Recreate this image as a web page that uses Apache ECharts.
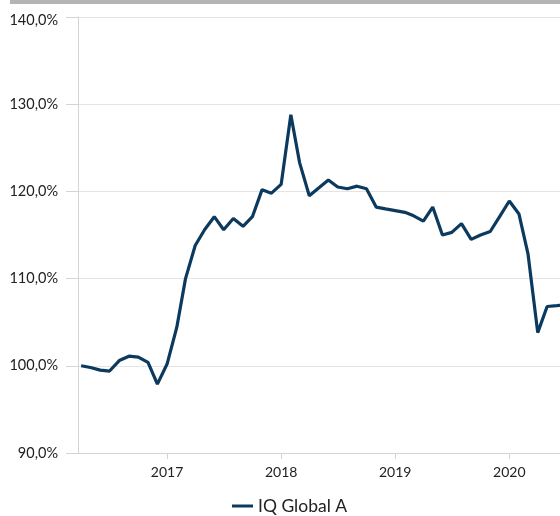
<!DOCTYPE html>
<html>
<head>
<meta charset="utf-8">
<script src="https://cdn.jsdelivr.net/npm/echarts@6/dist/echarts.min.js"></script>
<style>
html,body{margin:0;padding:0;background:#fff;overflow:hidden;width:560px;height:516px;}
#chart{width:640px;height:516px;}
</style>
</head>
<body>
<div id="chart"></div>
<script>
const seriesName = 'IQ Global A';
const months = [
 '2016-04','2016-05','2016-06','2016-07','2016-08','2016-09','2016-10','2016-11','2016-12',
 '2017-01','2017-02','2017-03','2017-04','2017-05','2017-06','2017-07','2017-08','2017-09','2017-10','2017-11','2017-12',
 '2018-01','2018-02','2018-03','2018-04','2018-05','2018-06','2018-07','2018-08','2018-09','2018-10','2018-11','2018-12',
 '2019-01','2019-02','2019-03','2019-04','2019-05','2019-06','2019-07','2019-08','2019-09','2019-10','2019-11','2019-12',
 '2020-01','2020-02','2020-03','2020-04','2020-05','2020-06','2020-07'
];
const values = [
 100.0, 99.8, 99.5, 99.4, 100.6, 101.1, 101.0, 100.4, 97.9,
 100.2, 104.4, 110.0, 113.8, 115.6, 117.1, 115.6, 116.9, 116.0, 117.1, 120.2, 119.8,
 120.8, 128.8, 123.3, 119.5, 120.4, 121.3, 120.5, 120.3, 120.6, 120.3, 118.2, 118.0,
 117.8, 117.6, 117.2, 116.6, 118.2, 115.0, 115.3, 116.3, 114.5, 115.0, 115.4, 117.1,
 118.9, 117.4, 112.8, 103.8, 106.8, 106.9, 107.0
];
const yearTicks = ['2017-01','2018-01','2019-01','2020-01'];

const FONT = 'Lato';
const toTs = s => new Date(s + (s.length === 7 ? '-01' : '') + 'T00:00:00Z').getTime();
const data = months.map((m, i) => [toTs(m), values[i]]);
const yearTs = yearTicks.map(toTs);
const fmtPct = v => v.toFixed(1).replace('.', ',') + '%';

const chart = echarts.init(document.getElementById('chart'), null, {renderer: 'canvas'});
chart.setOption({
  animation: false,
  backgroundColor: '#fff',
  textStyle: {fontFamily: FONT},
  graphic: [{
    type: 'rect', left: 10, top: 0,
    shape: {width: 620, height: 4},
    style: {fill: '#b4b4b4'}
  }],
  grid: {left: 78, top: 17, width: 536, bottom: 63},
  legend: {
    data: [seriesName],
    left: 227, top: 492,
    icon: 'rect', itemWidth: 21, itemHeight: 3, itemGap: 5,
    textStyle: {fontFamily: FONT, fontSize: 17.5, color: '#222'}
  },
  xAxis: {
    type: 'value',
    min: toTs('2016-03-22'),
    max: toTs('2020-12-01'),
    axisLine: {show: true, lineStyle: {color: '#d4d4d4', width: 1}},
    axisTick: {show: true, length: 6, lineStyle: {color: '#d4d4d4'}, customValues: yearTs},
    axisLabel: {
      customValues: yearTs,
      color: '#222', fontSize: 14, fontFamily: FONT, margin: 12,
      formatter: v => String(new Date(v).getUTCFullYear())
    },
    splitLine: {show: false}
  },
  yAxis: {
    type: 'value', min: 90, max: 140, interval: 10,
    axisLine: {show: true, lineStyle: {color: '#d4d4d4', width: 1}},
    axisTick: {show: true, length: 12, lineStyle: {color: '#d4d4d4'}},
    axisLabel: {
      color: '#222', fontSize: 14.5, fontFamily: FONT, margin: 20,
      formatter: v => v === 140 ? '{t|' + fmtPct(v) + '}' : fmtPct(v),
      rich: {t: {color: '#222', fontSize: 14.5, fontFamily: FONT, padding: [6, 0, 0, 0]}}
    },
    splitLine: {show: true, lineStyle: {color: '#e4e4e4', width: 1}}
  },
  series: [{
    name: seriesName,
    type: 'line',
    data: data,
    showSymbol: false,
    symbol: 'none',
    lineStyle: {color: '#0c3a5e', width: 3.2},
    itemStyle: {color: '#0c3a5e'},
    clip: true
  }]
});
</script>
</body>
</html>
